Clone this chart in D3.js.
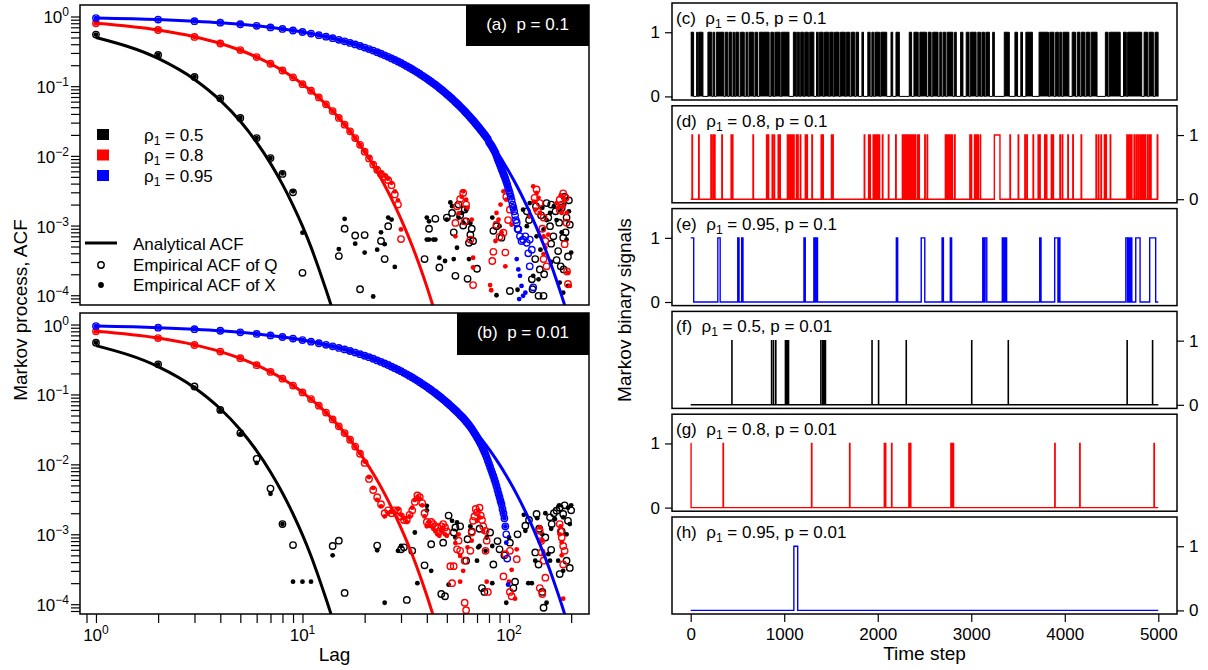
<!DOCTYPE html>
<html>
<head>
<meta charset="utf-8">
<script src="https://cdn.jsdelivr.net/npm/d3@7"></script>
<style>
  body { margin: 0; background: #fff; overflow: hidden; }
  text { font-family: "Liberation Sans", Arial, Helvetica, sans-serif; }
</style>
</head>
<body>
<script>
// ---------- labels ----------
var rhoValues = ["0.5", "0.8", "0.95"];
var pValues = ["0.1", "0.01"];
var acfTickExps = [0, -1, -2, -3, -4];
var lagTickExps = [0, 1, 2];
var timeTicks = [0, 1000, 2000, 3000, 4000, 5000];
var signalTicks = [0, 1];

// ---------- analytical ACF ----------
var anaLagsBlack = [1,2,3,4,5,6,7,8,9,10,11,12,13,14,15];
var anaBlack = [0.5,0.25,0.125,0.0625,0.0313,0.0156,0.0078,0.0039,0.00195,0.00098,0.00049,0.00024,0.00012,0.000061,0.000031];
var anaLagsRed = [1,2,3,4,5,6,7,8,9,10,12,14,16,18,20,22,25,28,31,34,37,40,43,46];
var anaRed = [0.8,0.64,0.512,0.41,0.328,0.262,0.21,0.168,0.134,0.107,0.0687,0.044,0.0281,0.018,0.0115,0.00738,0.00378,0.00193,0.00099,0.00051,0.00026,0.000133,0.000068,0.000035];
var anaLagsBlue = [1,2,3,4,5,6,8,10,12,15,20,25,30,35,40,45,50,55,60,65,70,75,80,85,90,95,100,110,120,130,140,150,160,170,180,190,200];
var anaBlue = [0.95,0.9025,0.857,0.815,0.774,0.735,0.663,0.599,0.54,0.463,0.358,0.277,0.215,0.166,0.1285,0.0994,0.0769,0.0595,0.0461,0.0356,0.0276,0.0213,0.0165,0.0128,0.0099,0.00766,0.00592,0.00355,0.00212,0.00127,0.00076,0.000456,0.000273,0.000163,0.000098,0.0000585,0.000035];

// ---------- panel (a), p = 0.1 : empirical ACF at lags 1..n ----------
var blackA_Q = [0.55,0.28,0.136,0.067,0.035,0.018,0.0093,0.0055,0.003,0.00021];
var blackA_X = [0.55,0.28,0.136,0.067,0.035,0.018,0.0093,0.0056,0.0031,0.00079];
var redA_Q = [0.8,0.64,0.51,0.41,0.33,0.262,0.21,0.168,0.134,0.107,0.086,0.069,0.055,0.044,0.035,0.028,0.0225,0.018,0.0144,0.0115,0.0092,0.0075,0.0063,0.0055,0.005,0.0045,0.0038,0.0028,0.002];
var redA_X = [0.8,0.64,0.51,0.41,0.33,0.262,0.21,0.168,0.134,0.107,0.086,0.069,0.055,0.044,0.035,0.028,0.0225,0.018,0.0144,0.0116,0.0095,0.0078,0.0066,0.0058,0.0052,0.0047,0.0041,0.0031,0.0023];
var blueA_Q = [0.95,0.9025,0.857,0.815,0.774,0.735,0.698,0.663,0.63,0.599,
  0.569,0.54,0.513,0.488,0.463,0.44,0.418,0.397,0.377,0.358,
  0.341,0.324,0.307,0.292,0.277,0.264,0.25,0.238,0.226,0.215,
  0.204,0.194,0.184,0.175,0.166,0.158,0.15,0.142,0.135,0.1285,
  0.122,0.116,0.11,0.105,0.0994,0.0945,0.0897,0.0853,0.081,0.0769,
  0.0731,0.0694,0.066,0.0627,0.0595,0.0566,0.0537,0.051,0.0485,0.0461,
  0.0438,0.0416,0.0395,0.0375,0.0356,0.0339,0.0322,0.0306,0.029,0.0276,
  0.0262,0.0249,0.0236,0.0225,0.0213,0.0203,0.0193,0.0183,0.0174,0.0158,
  0.015,0.0142,0.0134,0.0126,0.0118,0.011,0.01,0.0091,0.0084,0.0077,
  0.0071,0.0065,0.006,0.0055,0.0051,0.0047,0.0043,0.0039,0.0035,0.0032,
  0.0029,0.0026,0.0023,0.002,0.0018,0.0016,0.0014,0.0012,0.0011,0.0009];
// scattered [lag, acf] points once the ACF has decayed into noise
var blackA_Qs = [[16,9.0e-4],[15,3.65e-4],[18,7.2e-4],[20,7.3e-4],[24,6.0e-4],[25,3.3e-4],[26,9.8e-4],[19,1.22e-4],[39,3.3e-4],[41,9.0e-4],[44,1.25e-3],[46,2.5e-4],[55,1.9e-4],[54,8.0e-4],[53,1.52e-3],[57,2.0e-3],[62,1.15e-3],[65,7.4e-4],[64,5.65e-4],[63,1.72e-4],[70,2.4e-4],[84,8.4e-4],[87,9.8e-4],[92,6.7e-4],[101,1.15e-4],[122,1.6e-3],[129,1.69e-4],[130,1.22e-4],[139,9.8e-5],[147,9.8e-5],[152,2.1e-3],[158,9.8e-4],[164,7.0e-4],[173,4.3e-4],[183,6.7e-4],[186,2.6e-3],[190,1.3e-3],[197,1.03e-3],[148,2.0e-4],[141,2.35e-4],[134,3.3e-4],[184,2.35e-4],[58,1.4e-3],[60,1.0e-3],[66,9.0e-4],[67,6.0e-4],[50,1.3e-3],[61,1.7e-3],[125,1.2e-3],[135,1.9e-3],[143,1.4e-3],[155,1.3e-3],[160,2.0e-3],[168,1.6e-3],[175,1.1e-3],[180,1.8e-3],[195,2.3e-3],[188,8e-4],[170,3.2e-4],[178,2.6e-4],[193,3.6e-4],[160,5.5e-4]];
var blackA_Xs = [[16,1.25e-3],[15,4.6e-4],[18,5.5e-4],[20,4.1e-4],[24,8.0e-4],[23,4.5e-4],[25,5.4e-4],[28,2.55e-4],[22,9.6e-5],[26,1.3e-3],[27,1.22e-3],[40,1.3e-3],[41,1.15e-3],[40,6.3e-4],[41,6.3e-4],[43,6.3e-4],[44,6.3e-4],[46,3.45e-4],[49,3.1e-4],[54,3.3e-4],[56,4.8e-4],[64,3.3e-4],[52,2.15e-3],[50,1.22e-3],[59,1.52e-3],[62,1.69e-3],[65,1.09e-3],[87,1.0e-4],[83,1.3e-3],[90,9.8e-4],[117,1.69e-3],[125,1.36e-3],[136,7.0e-4],[147,8.8e-4],[158,1.52e-3],[176,1.69e-3],[190,6.3e-4],[200,4.1e-4],[131,1.9e-4],[139,1.69e-4],[176,1.52e-4],[183,1.09e-4],[193,1.36e-4],[126,2.1e-3],[122,9.8e-4],[53,1.9e-3],[57,1.3e-3],[60,1.1e-3],[145,1.8e-3],[152,1.2e-3],[165,1.9e-3],[170,1.2e-3],[185,2.0e-3],[195,1.6e-3],[180,8e-4],[142,4.5e-4],[160,3e-4],[110,1.2e-4]];
var redA_Qs = [[30,6.4e-4],[55,1.09e-3],[56,1.89e-3],[60,2.93e-3],[61,1.15e-3],[65,6.3e-4],[67,1.4e-4],[84,4.2e-4],[83,3.1e-4],[96,4.1e-4],[94,7.9e-4],[90,6.9e-4],[87,1.03e-3],[97,2.6e-3],[101,1.69e-3],[136,3.3e-3],[141,2.1e-3],[147,3.3e-4],[152,2.6e-4],[176,2.35e-3],[183,2.9e-3],[176,1.69e-3],[191,2.2e-4],[193,1.45e-4],[186,5.4e-4],[147,1.3e-3],[58,2.4e-3],[62,2.0e-3],[99,1.2e-3],[133,2.5e-3],[138,1.6e-3],[180,2.0e-3],[188,2.5e-3],[145,9e-4],[150,6e-4],[190,1.1e-3]];
var redA_Xs = [[30,8.8e-4],[55,7.0e-4],[59,2.6e-3],[60,3.1e-3],[62,2.35e-3],[66,1.22e-3],[67,2.5e-4],[67,3.45e-4],[81,1.4e-4],[82,1.18e-4],[96,2.6e-4],[87,1.52e-3],[89,1.22e-3],[86,6.0e-4],[94,3.1e-3],[97,2.35e-3],[103,1.03e-3],[131,3.65e-3],[136,2.93e-3],[139,2.5e-3],[134,1.69e-3],[141,1.52e-3],[147,3.9e-4],[150,4.8e-4],[126,1.36e-3],[170,2.1e-3],[173,1.8e-3],[180,1.52e-3],[183,1.89e-3],[190,1.52e-3],[197,1.36e-4],[193,2.1e-4],[147,7.0e-4],[155,7.4e-4],[57,1.5e-3],[63,1.8e-3],[91,2.0e-3],[92,8e-4],[185,2.4e-3],[178,2.7e-3],[132,2.2e-3]];
var blueA_Qs = [[111,8.8e-4],[113,7.0e-4],[117,6.3e-4],[122,5.65e-4],[126,6.3e-4],[129,4.5e-4],[126,2.6e-4],[131,1.3e-4],[115,6.0e-4],[120,7.0e-4],[124,4.0e-4]];
var blueA_Xs = [[103,2.6e-3],[106,1.8e-3],[109,3.3e-4],[111,2.35e-4],[113,1.9e-4],[115,1.36e-4],[117,9.8e-5],[112,8.8e-5],[120,1.09e-4]];

// ---------- panel (b), p = 0.01 ----------
var blackB_Q = [0.55,0.27,0.13,0.06,0.028,0.012,0.0045,0.0014,0.0007];
var blackB_X = [0.55,0.27,0.125,0.058,0.027,0.0105,0.0038,0.0014,0.00021,0.00021,0.00021];
var redB_Q = [0.8,0.64,0.51,0.41,0.33,0.262,0.21,0.168,0.134,0.107,
  0.086,0.069,0.055,0.044,0.035,0.028,0.0225,0.018,0.0142,0.0105,
  0.0062,0.0043,0.0034,0.0027,0.002,0.0022,0.002,0.0022,0.0022,0.0018,
  0.0016,0.0016,0.0019,0.0022,0.0029,0.0036,0.0034,0.0028,0.002,0.0015,
  0.0014,0.0015,0.0014,0.0013,0.00125,0.0011,0.0013,0.0014,0.00125,0.0011];
var redB_X = [0.8,0.64,0.51,0.41,0.33,0.262,0.21,0.168,0.134,0.107,
  0.086,0.069,0.055,0.044,0.035,0.028,0.0225,0.018,0.0145,0.011,
  0.0066,0.0046,0.0031,0.0025,0.0018,0.002,0.0021,0.002,0.0023,0.0019,
  0.0017,0.0015,0.0018,0.0024,0.0031,0.0034,0.0032,0.0026,0.0018,0.0013,
  0.0015,0.0013,0.0012,0.0011,0.001,0.00095,0.0011,0.0012,0.001,0.00095];
var blueB_Q = [0.95,0.9025,0.857,0.815,0.774,0.735,0.698,0.663,0.63,0.599,
  0.569,0.54,0.513,0.488,0.463,0.44,0.418,0.397,0.377,0.358,
  0.341,0.324,0.307,0.292,0.277,0.264,0.25,0.238,0.226,0.215,
  0.204,0.194,0.184,0.175,0.166,0.158,0.15,0.142,0.135,0.1285,
  0.122,0.116,0.11,0.105,0.0994,0.0945,0.0897,0.0853,0.081,0.0769,
  0.0731,0.0694,0.066,0.0627,0.0595,0.0566,0.0537,0.051,0.0485,0.0461,
  0.0436,0.0412,0.0389,0.0366,0.0344,0.0323,0.0302,0.0282,0.0263,0.0245,
  0.0228,0.0211,0.0195,0.018,0.0165,0.0151,0.0138,0.0125,0.0113,0.0102,
  0.0092,0.0083,0.0075,0.0068,0.0061,0.0055,0.0049,0.0043,0.0038,0.0034,
  0.003,0.0027,0.0023,0.002,0.0017,0.0013,0.001,0.00045];
var blackB_Qs = [[14,6.8e-4],[15,8.1e-4],[23,6.9e-4],[32,1.15e-4],[16,1.45e-4],[30,6.1e-4],[31,6.5e-4],[34,5.8e-4],[39,3.6e-4],[42,7.2e-4],[49,1.3e-4],[47,1.4e-4],[48,7.6e-4],[51,1.85e-3],[55,1.25e-3],[54,1.06e-3],[63,8.5e-4],[62,4.2e-4],[76,1.5e-4],[74,1.7e-4],[84,3.7e-4],[81,1.06e-3],[90,6.1e-4],[101,7.6e-4],[107,2.1e-4],[105,1.7e-4],[120,1.33e-3],[134,5.5e-4],[136,1.95e-3],[139,3.7e-4],[145,1.5e-4],[147,8.9e-5],[158,1.75e-3],[161,1.4e-3],[170,2.18e-3],[176,2.4e-3],[183,1.95e-3],[193,1.56e-3],[190,4.2e-4],[197,3.3e-4],[176,2.7e-4],[58,1.3e-3],[66,1.1e-3],[72,1.2e-3],[88,8e-4],[95,5e-4],[110,1.0e-3],[125,1.6e-3],[140,1.2e-3],[150,9e-4],[165,2.0e-3],[180,1.1e-3],[186,2.6e-3],[160,6e-4],[200,2.2e-3]];
var blackB_Xs = [[14,5.0e-4],[23,5.9e-4],[25,1.05e-4],[36,2.0e-4],[42,3.0e-4],[35,1.06e-3],[40,2.55e-3],[40,2.2e-3],[29,5.8e-4],[30,6.8e-4],[51,1.9e-4],[53,1.56e-3],[56,1.48e-3],[55,9.0e-4],[72,6.8e-4],[83,6.8e-4],[77,5.8e-4],[83,2.0e-4],[70,4.2e-4],[71,6.5e-4],[97,1.05e-4],[100,9.0e-4],[120,1.12e-3],[124,2.0e-4],[129,2.0e-4],[134,4.2e-4],[152,1.05e-4],[155,5.2e-4],[158,4.2e-4],[173,4.2e-4],[183,3.0e-4],[193,2.4e-3],[197,1.4e-3],[190,1.0e-3],[167,1.65e-3],[183,1.75e-3],[65,1.3e-3],[78,9e-4],[118,1.9e-3],[137,1.7e-3],[150,2.0e-3],[175,2.6e-3],[160,1.2e-3],[200,2.6e-3],[145,1.0e-3]];
var redB_Qs = [[56,6.1e-4],[57,8.1e-4],[58,5.8e-4],[61,4.2e-4],[65,5.8e-4],[52,3.5e-4],[54,3.5e-4],[53,2.0e-4],[61,1.05e-4],[62,8.2e-5],[66,1.06e-3],[67,1.56e-3],[70,2.06e-3],[72,2.4e-3],[73,1.85e-3],[77,1.12e-3],[78,8.1e-4],[77,5.8e-4],[79,1.5e-4],[96,5.2e-4],[101,5.8e-4],[109,4.4e-4],[94,2.5e-4],[101,1.5e-4],[103,1.3e-4],[141,1.12e-3],[144,5.5e-4],[147,4.2e-4],[150,2.4e-4],[176,1.4e-3],[180,9.0e-4],[183,6.8e-4],[186,5.8e-4],[183,3.7e-4],[141,1.7e-4],[145,1.4e-4],[69,2.3e-3],[74,1.6e-3],[75,1.3e-3],[68,1.8e-3],[178,1.1e-3],[143,8e-4]];
var redB_Xs = [[58,4.9e-4],[60,3.0e-4],[58,2.1e-4],[78,2.1e-4],[103,3.1e-4],[100,2.1e-4],[107,1.2e-4],[109,6.1e-4],[141,1.25e-3],[144,8.1e-4],[147,5.2e-4],[176,1.0e-3],[180,7.7e-4],[183,1.2e-4],[66,8.1e-4],[70,1.56e-3],[72,1.75e-3],[55,7.5e-4],[57,1.0e-3],[63,6.5e-4],[75,1.1e-3],[71,2.2e-3],[178,1.3e-3],[180,5e-4]];
var blueB_Xs = [[97,7.6e-4],[99,1.9e-4]];

// ---------- binary signals: intervals [on, off] where the signal is 1 ----------
var sigC = [[0,31],[63,74],[85,131],[184,226],[240,256],[274,355],[370,396],[410,439],[453,468],[482,514],[530,573],[591,610],[624,674],[688,715],[733,839],[857,886],[900,957],[972,1051],[1098,1129],[1140,1162],[1176,1205],[1219,1258],[1272,1317],[1345,1364],[1378,1417],[1431,1476],[1487,1524],[1538,1587],[1601,1653],[1664,1701],[1715,1754],[1768,1795],[1831,1848],[1894,1919],[1937,1956],[1970,2019],[2033,2096],[2142,2160],[2195,2231],[2337,2362],[2387,2433],[2450,2521],[2539,2571],[2588,2645],[2663,2685],[2699,2728],[2742,2804],[2822,2840],[2886,2911],[2946,2976],[2990,3052],[3070,3100],[3114,3142],[3156,3194],[3229,3247],[3353,3407],[3467,3495],[3530,3548],[3584,3654],[3725,3826],[3840,3885],[3902,3932],[3946,3967],[3981,4044],[4079,4115],[4133,4162],[4176,4215],[4229,4268],[4282,4345],[4434,4463],[4477,4593],[4628,4658],[4672,4823],[4848,4888],[4902,4947],[4965,4998]];
var sigD = [[14,19],[85,90],[216,221],[237,242],[255,260],[333,338],[432,437],[446,451],[666,671],[811,816],[829,834],[871,876],[892,897],[935,940],[953,958],[1034,1039],[1048,1053],[1066,1071],[1076,1081],[1087,1092],[1101,1106],[1130,1135],[1144,1149],[1172,1177],[1225,1230],[1243,1248],[1296,1301],[1395,1400],[1413,1418],[1505,1510],[1519,1524],[1856,1861],[1902,1907],[1916,1921],[1951,1956],[1969,1974],[1987,1992],[1997,2002],[2015,2020],[2050,2055],[2114,2119],[2192,2197],[2263,2268],[2280,2285],[2298,2303],[2316,2321],[2334,2339],[2351,2356],[2365,2370],[2380,2385],[2397,2402],[2422,2427],[2440,2445],[2503,2508],[2528,2533],[2723,2728],[2741,2746],[2758,2763],[2776,2781],[2794,2799],[2822,2827],[2985,2990],[2999,3004],[3035,3040],[3052,3057],[3070,3075],[3095,3100],[3247,3307],[3414,3419],[3502,3507],[3573,3578],[3594,3599],[3661,3666],[3715,3720],[3732,3737],[3785,3790],[3803,3808],[3856,3861],[3874,3879],[3948,3953],[3973,3978],[4033,4038],[4086,4091],[4175,4180],[4334,4339],[4359,4364],[4387,4392],[4423,4428],[4440,4445],[4486,4491],[4664,4669],[4681,4686],[4695,4700],[4713,4718],[4741,4746],[4763,4768],[4784,4789],[4805,4810],[4823,4828],[4841,4846],[4858,4863],[4883,4888],[4904,4909],[4918,4923],[4989,4994]];
var sigE = [[0,32],[290,315],[503,517],[545,559],[1211,1225],[1317,1331],[1342,1356],[2199,2213],[2465,2503],[2688,2702],[2776,2790],[3123,3137],[3148,3166],[3332,3343],[3350,3360],[3368,3378],[3732,3746],[3892,3927],[3934,3948],[4653,4671],[4681,4695],[4706,4717],[4759,4805],[4908,4972]];
var sigF = [[440,442],[864,866],[885,887],[909,911],[1012,1014],[1029,1031],[1045,1047],[1391,1393],[1411,1413],[1428,1430],[1440,1442],[1938,1940],[2008,2010],[2304,2306],[3004,3006],[3395,3397],[4666,4668],[4938,4940]];
var sigG = [[0,4],[346,350],[1292,1296],[1699,1703],[2070,2074],[2082,2086],[2148,2152],[2333,2337],[2350,2354],[2782,2786],[2794,2798],[2807,2811],[3893,3897],[4160,4164],[4954,4958]];
var sigH = [[1103,1144]];

// ---------- drawing ----------
var colors = ["#000000", "#ff0000", "#0000ff"];
var svg = d3.select("body").append("svg").attr("width", 1208).attr("height", 670);

function perLag(arr) { return arr.map(function(v, i) { return [i + 1, v]; }); }

var leftPanels = [
  { tag: "(a)", p: pValues[0], top: 5, bottom: 305, tagX: 466, tagH: 41, textY: 30,
    sets: [
      { ana: d3.zip(anaLagsBlack, anaBlack), q: perLag(blackA_Q).concat(blackA_Qs), x: perLag(blackA_X).concat(blackA_Xs) },
      { ana: d3.zip(anaLagsRed, anaRed), q: perLag(redA_Q).concat(redA_Qs), x: perLag(redA_X).concat(redA_Xs) },
      { ana: d3.zip(anaLagsBlue, anaBlue), q: perLag(blueA_Q).concat(blueA_Qs), x: perLag(blueA_Q).slice(0, 100).concat(blueA_Xs) }
    ] },
  { tag: "(b)", p: pValues[1], top: 313, bottom: 614, tagX: 457, tagH: 42, textY: 338,
    sets: [
      { ana: d3.zip(anaLagsBlack, anaBlack), q: perLag(blackB_Q).concat(blackB_Qs), x: perLag(blackB_X).concat(blackB_Xs) },
      { ana: d3.zip(anaLagsRed, anaRed), q: perLag(redB_Q).concat(redB_Qs), x: perLag(redB_X).concat(redB_Xs) },
      { ana: d3.zip(anaLagsBlue, anaBlue), q: perLag(blueB_Q), x: perLag(blueB_Q).slice(0, 96).concat(blueB_Xs) }
    ] }
];

var L0 = 80, L1 = 589;
var xLag = d3.scaleLog().domain([0.837, 244]).range([L0, L1]);

function supLabel(sel, x, y, anchor, exp) {
  var t = sel.append("text").attr("x", x).attr("y", y).attr("text-anchor", anchor).style("font-size", "17px");
  t.append("tspan").text("10");
  t.append("tspan").attr("dy", -7).style("font-size", "12px").text(exp < 0 ? "\u2212" + (-exp) : String(exp));
}

leftPanels.forEach(function(pn, k) {
  var y = d3.scaleLog().domain([Math.pow(10, -4.14), Math.pow(10, 0.165)]).range([pn.bottom, pn.top]);
  var g = svg.append("g");
  var clipId = "clipL" + k;
  svg.append("clipPath").attr("id", clipId).append("rect")
    .attr("x", L0).attr("y", pn.top).attr("width", L1 - L0).attr("height", pn.bottom - pn.top);
  var plot = g.append("g").attr("clip-path", "url(#" + clipId + ")");

  pn.sets.forEach(function(s, i) {
    // filled X dots first, open Q rings on top
    plot.append("g").selectAll("circle").data(s.x).enter().append("circle")
      .attr("cx", function(d) { return xLag(d[0]); })
      .attr("cy", function(d) { return y(d[1]); })
      .attr("r", 2.4).attr("fill", colors[i]);
    plot.append("g").selectAll("circle").data(s.q).enter().append("circle")
      .attr("cx", function(d) { return xLag(d[0]); })
      .attr("cy", function(d) { return y(d[1]); })
      .attr("r", 3.2).attr("fill", "none").attr("stroke", colors[i]).attr("stroke-width", 1.4);
    plot.append("path").datum(s.ana)
      .attr("d", d3.line().x(function(d) { return xLag(d[0]); }).y(function(d) { return y(d[1]); }).curve(d3.curveMonotoneX))
      .attr("fill", "none").attr("stroke", colors[i]).attr("stroke-width", 3);
  });

  g.append("rect").attr("x", L0).attr("y", pn.top).attr("width", L1 - L0).attr("height", pn.bottom - pn.top)
    .attr("fill", "none").attr("stroke", "#000").attr("stroke-width", 1.5);

  var yAxis = d3.axisLeft(y).tickValues(y.ticks()).tickFormat("").tickSize(9).tickSizeOuter(0);
  g.append("g").attr("transform", "translate(" + L0 + ",0)").call(yAxis)
    .call(function(a) { a.select(".domain").remove(); a.selectAll("line").attr("stroke-width", 1.2); });
  acfTickExps.forEach(function(e) { supLabel(g, 69, y(Math.pow(10, e)) + 7, "end", e); });

  // black tag box
  g.append("rect").attr("x", pn.tagX).attr("y", pn.top).attr("width", L1 - pn.tagX).attr("height", pn.tagH).attr("fill", "#000");
  g.append("text").attr("x", (pn.tagX + L1) / 2).attr("y", pn.textY).attr("text-anchor", "middle")
    .attr("fill", "#fff").style("font-size", "17px").text(pn.tag + "\u00a0\u00a0p = " + pn.p);

  if (k === 1) {
    var xAxis = d3.axisBottom(xLag).tickValues(xLag.ticks()).tickFormat("").tickSize(9).tickSizeOuter(0);
    g.append("g").attr("transform", "translate(0," + pn.bottom + ")").call(xAxis)
      .call(function(a) { a.select(".domain").remove(); a.selectAll("line").attr("stroke-width", 1.2); });
    lagTickExps.forEach(function(e) { supLabel(g, xLag(Math.pow(10, e)), 641, "middle", e); });
  }
});

// legend in panel (a)
var leg = svg.append("g");
rhoValues.forEach(function(r, i) {
  var cy = 134.5 + i * 20.5;
  leg.append("rect").attr("x", 97).attr("y", cy - 5.5).attr("width", 12).attr("height", 11).attr("fill", colors[i]);
  var t = leg.append("text").attr("x", 144).attr("y", cy + 6).style("font-size", "17px");
  t.append("tspan").text("\u03c1");
  t.append("tspan").attr("dy", 4).style("font-size", "12px").text("1");
  t.append("tspan").attr("dy", -4).text(" = " + r);
});
leg.append("line").attr("x1", 85).attr("x2", 117).attr("y1", 243).attr("y2", 243).attr("stroke", "#000").attr("stroke-width", 3);
leg.append("text").attr("x", 133).attr("y", 250).style("font-size", "17px").text("Analytical ACF");
leg.append("circle").attr("cx", 101).attr("cy", 265).attr("r", 3.2).attr("fill", "none").attr("stroke", "#000").attr("stroke-width", 1.4);
leg.append("text").attr("x", 133).attr("y", 271).style("font-size", "17px").text("Empirical ACF of Q");
leg.append("circle").attr("cx", 101).attr("cy", 285).attr("r", 2.9).attr("fill", "#000");
leg.append("text").attr("x", 133).attr("y", 291).style("font-size", "17px").text("Empirical ACF of X");

svg.append("text").attr("transform", "translate(27,310) rotate(-90)").attr("text-anchor", "middle")
  .style("font-size", "19px").text("Markov process, ACF");
svg.append("text").attr("x", (L0 + L1) / 2).attr("y", 661).attr("text-anchor", "middle")
  .style("font-size", "19px").text("Lag");

// right column: binary signals
var R0 = 672, R1 = 1177;
var tx = d3.scaleLinear().domain([-200, 5200]).range([R0, R1]);
var rightPanels = [
  { tag: "(c)", rho: rhoValues[0], p: pValues[0], sig: sigC, c: 0, side: "left", fill: true },
  { tag: "(d)", rho: rhoValues[1], p: pValues[0], sig: sigD, c: 1, side: "right" },
  { tag: "(e)", rho: rhoValues[2], p: pValues[0], sig: sigE, c: 2, side: "left" },
  { tag: "(f)", rho: rhoValues[0], p: pValues[1], sig: sigF, c: 0, side: "right" },
  { tag: "(g)", rho: rhoValues[1], p: pValues[1], sig: sigG, c: 1, side: "left" },
  { tag: "(h)", rho: rhoValues[2], p: pValues[1], sig: sigH, c: 2, side: "right" }
];

function stepPts(iv) {
  var pts = [];
  pts.push(iv.length && iv[0][0] === 0 ? [0, 1] : [0, 0]);
  iv.forEach(function(d) {
    if (d[0] !== 0) { pts.push([d[0], 0], [d[0], 1]); }
    pts.push([d[1], 1], [d[1], 0]);
  });
  pts.push([5000, 0]);
  return pts;
}

rightPanels.forEach(function(pn, k) {
  var top = 3 + k * 102.8, bottom = top + 97;
  var ys = d3.scaleLinear().domain([-0.056, 1.456]).range([bottom, top]);
  var g = svg.append("g");
  var pts = stepPts(pn.sig);
  if (pn.fill) {
    g.append("path").datum(pts)
      .attr("d", d3.area().x(function(d) { return tx(d[0]); }).y0(ys(0)).y1(function(d) { return ys(d[1]); }))
      .attr("fill", colors[pn.c]);
  }
  g.append("path").datum(pts)
    .attr("d", d3.line().x(function(d) { return tx(d[0]); }).y(function(d) { return ys(d[1]); }))
    .attr("fill", "none").attr("stroke", colors[pn.c]).attr("stroke-width", pn.fill ? 1 : 1.4);

  g.append("rect").attr("x", R0).attr("y", top).attr("width", R1 - R0).attr("height", bottom - top)
    .attr("fill", "none").attr("stroke", "#000").attr("stroke-width", 1.5);

  var ax = (pn.side === "left" ? d3.axisLeft(ys) : d3.axisRight(ys))
    .tickValues(signalTicks).tickFormat(d3.format("d")).tickSize(7).tickPadding(5).tickSizeOuter(0);
  g.append("g").attr("transform", "translate(" + (pn.side === "left" ? R0 : R1) + ",0)").call(ax)
    .call(function(a) {
      a.select(".domain").remove();
      a.selectAll("line").attr("stroke-width", 1.2);
      a.selectAll("text").attr("font-size", 17).attr("font-family", '"Liberation Sans", Arial, sans-serif');
    });

  var t = g.append("text").attr("x", 676).attr("y", top + 21).style("font-size", "17px");
  t.append("tspan").text(pn.tag + "\u00a0\u00a0\u03c1");
  t.append("tspan").attr("dy", 4).style("font-size", "12px").text("1");
  t.append("tspan").attr("dy", -4).text(" = " + pn.rho + ", p = " + pn.p);

  if (k === rightPanels.length - 1) {
    var xa = d3.axisBottom(tx).tickValues(timeTicks).tickFormat(d3.format("d")).tickSize(8).tickPadding(6).tickSizeOuter(0);
    g.append("g").attr("transform", "translate(0," + bottom + ")").call(xa)
      .call(function(a) {
        a.select(".domain").remove();
        a.selectAll("line").attr("stroke-width", 1.2);
        a.selectAll("text").attr("font-size", 17).attr("font-family", '"Liberation Sans", Arial, sans-serif');
      });
  }
});

svg.append("text").attr("transform", "translate(631,310) rotate(-90)").attr("text-anchor", "middle")
  .style("font-size", "19px").text("Markov binary signals");
svg.append("text").attr("x", (R0 + R1) / 2).attr("y", 660).attr("text-anchor", "middle")
  .style("font-size", "19px").text("Time step");
</script>
</body>
</html>
